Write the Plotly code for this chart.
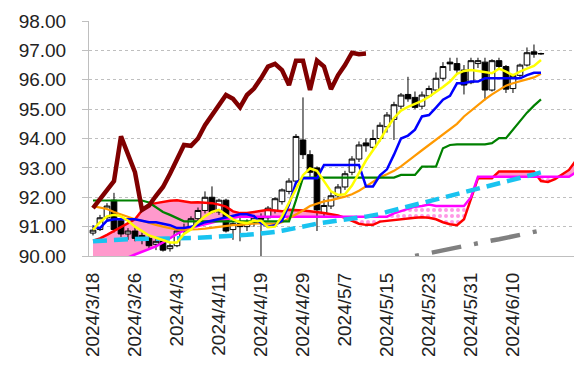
import plotly.graph_objects as go

# ---------------- data ----------------
tick_idx = [0, 6, 12, 18, 24, 30, 36, 42, 48, 54, 60]
tick_labels = ["2024/3/18", "2024/3/26", "2024/4/3", "2024/4/11", "2024/4/19", "2024/4/29",
               "2024/5/7", "2024/5/15", "2024/5/23", "2024/5/31", "2024/6/10"]

opens = [90.78, 90.90, 91.30, 91.90, 91.20, 90.75, 90.85, 90.60, 90.60, 90.40,
         90.55, 90.25, 90.35, 90.85, 90.95, 91.27, 91.55, 92.00, 91.50, 91.90,
         90.90, 91.10, 91.00, 91.15, 91.30, 91.30, 91.55, 91.85, 92.20, 92.55,
         93.95, 93.45, 93.00, 91.45, 91.70, 92.05, 92.35, 92.85, 93.30, 93.85,
         93.70, 94.00, 94.40, 94.65, 95.10, 95.50, 95.40, 95.10, 95.45, 95.65,
         96.05, 96.60, 96.55, 96.33, 95.90, 96.55, 96.60, 95.65, 96.65, 96.45,
         95.70, 96.15, 96.50, 96.95, 96.88]
highs = [91.05, 91.40, 91.80, 92.15, 91.30, 90.95, 91.00, 90.80, 90.70, 90.60,
         90.60, 90.45, 90.95, 91.10, 91.35, 91.65, 92.20, 92.37, 91.95, 91.95,
         91.15, 91.30, 91.25, 91.40, 91.45, 91.70, 92.00, 92.30, 92.65, 94.15,
         95.40, 93.60, 93.05, 91.95, 92.20, 92.45, 92.90, 93.40, 93.90, 94.00,
         94.30, 94.55, 94.90, 95.25, 95.55, 96.10, 95.60, 95.60, 95.80, 96.25,
         96.60, 96.75, 96.75, 96.50, 96.75, 96.75, 96.75, 96.70, 96.75, 96.50,
         96.20, 96.55, 97.10, 97.20, 96.92]
lows = [90.70, 90.85, 91.20, 90.80, 90.65, 90.55, 90.50, 90.40, 90.25, 90.20,
        90.15, 90.15, 90.30, 90.75, 90.90, 91.20, 91.45, 91.45, 91.40, 90.80,
        90.55, 90.50, 90.85, 91.00, 89.90, 91.20, 91.45, 91.75, 92.10, 92.45,
        93.30, 92.70, 90.85, 91.35, 91.60, 91.95, 92.25, 92.75, 93.20, 93.55,
        93.65, 93.90, 94.20, 93.95, 95.00, 95.25, 95.00, 95.00, 95.40, 95.60,
        95.95, 96.30, 96.20, 95.50, 95.85, 96.40, 95.30, 95.60, 96.35, 95.55,
        95.55, 96.05, 96.45, 96.75, 96.85]
closes = [90.88, 91.30, 91.70, 90.90, 90.75, 90.85, 90.60, 90.70, 90.35, 90.50,
          90.20, 90.35, 90.85, 90.95, 91.27, 91.55, 92.00, 91.50, 91.90, 90.85,
          91.10, 91.00, 91.15, 91.30, 91.25, 91.63, 91.95, 92.25, 92.55, 94.07,
          93.45, 92.85, 91.57, 91.72, 92.05, 92.35, 92.80, 93.30, 93.78, 93.75,
          94.00, 94.45, 94.80, 95.15, 95.48, 95.35, 95.06, 95.48, 95.70, 96.05,
          96.45, 96.54, 96.33, 95.82, 96.65, 96.65, 95.65, 96.65, 96.45, 95.68,
          96.15, 96.50, 96.92, 96.87, 96.89]

ma_yellow = [90.90, 91.15, 91.35, 91.40, 91.35, 91.20, 91.00, 90.85, 90.70, 90.62,
             90.55, 90.46, 90.46, 90.75, 90.90, 91.15, 91.35, 91.50, 91.57, 91.42,
             91.25, 91.15, 91.12, 91.20, 91.20, 90.98, 91.00, 91.35, 91.80, 92.30,
             92.75, 92.98, 92.90, 92.55, 92.20, 92.08, 92.10, 92.40, 92.85, 93.25,
             93.60, 93.95, 94.35, 94.70, 94.95, 95.08, 95.18, 95.28, 95.42, 95.57,
             95.75, 95.94, 96.20, 96.30, 96.33, 96.30, 96.25, 96.22, 96.38, 96.28,
             96.15, 96.28, 96.38, 96.47, 96.67]
tenkan_blue = [91.00, 90.95, 91.20, 91.25, 91.25, 91.25, 91.25, 91.20, 91.15, 91.15,
               91.10, 91.05, 90.95, 90.95, 91.00, 91.05, 91.15, 91.20, 91.25, 91.30,
               91.35, 91.42, 91.42, 91.36, 91.12, 91.00, 91.05, 91.20, 91.75, 92.50,
               92.65, 92.65, 92.65, 93.10, 93.10, 93.10, 93.10, 93.10, 93.10, 92.37,
               92.37, 92.75, 92.95, 93.45, 94.00, 94.10, 94.30, 94.75, 94.80, 95.05,
               95.32, 95.45, 95.88, 95.88, 95.94, 95.94, 96.05, 96.05, 96.05, 96.05,
               96.05, 96.05, 96.16, 96.24, 96.24]
kijun_green = [91.89, 91.89, 91.89, 91.89, 91.89, 91.89, 91.89, 91.89, 91.82, 91.65,
               91.50, 91.40, 91.30, 91.18, 91.18, 91.18, 91.18, 91.18, 91.18, 91.18,
               91.18, 91.18, 91.18, 91.18, 91.18, 91.18, 91.18, 91.18, 91.18, 91.90,
               92.67, 92.67, 92.67, 92.67, 92.67, 92.67, 92.67, 92.67, 92.67, 92.67,
               92.67, 92.67, 92.67, 92.67, 92.76, 92.76, 92.76, 93.04, 93.04, 93.04,
               93.67, 93.78, 93.80, 93.80, 93.80, 93.80, 93.80, 93.84, 94.01, 94.01,
               94.30, 94.60, 94.88, 95.12, 95.33]
ma_orange = [91.70, 91.66, 91.60, 91.50, 91.42, 91.33, 91.25, 91.20, 91.12, 91.06,
             91.00, 90.95, 90.90, 90.90, 90.90, 90.91, 90.93, 90.96, 91.00, 91.02,
             91.05, 91.06, 91.08, 91.10, 91.12, 91.10, 91.10, 91.15, 91.28, 91.42,
             91.55, 91.70, 91.77, 91.86, 91.90, 91.95, 92.02, 92.10, 92.22, 92.37,
             92.52, 92.68, 92.78, 92.90, 93.05, 93.25, 93.42, 93.60, 93.78, 93.95,
             94.15, 94.33, 94.50, 94.75, 94.95, 95.13, 95.33, 95.50, 95.65, 95.80,
             95.88, 95.94, 96.00, 96.08, 96.20]
ma_cyan = [90.50, 90.52, 90.54, 90.55, 90.56, 90.57, 90.58, 90.58, 90.59, 90.59,
           90.60, 90.60, 90.60, 90.61, 90.61, 90.62, 90.63, 90.64, 90.65, 90.66,
           90.68, 90.70, 90.72, 90.74, 90.76, 90.79, 90.82, 90.86, 90.90, 90.95,
           91.00, 91.05, 91.10, 91.14, 91.18, 91.22, 91.25, 91.28, 91.31, 91.34,
           91.38, 91.43, 91.50, 91.56, 91.62, 91.68, 91.75, 91.81, 91.87, 91.92,
           91.97, 92.02, 92.08, 92.14, 92.20, 92.27, 92.33, 92.39, 92.45, 92.51,
           92.57, 92.64, 92.71, 92.78, 92.85]
ma_gray = [89.71, 89.76, 89.81, 89.86, 89.91, 89.95, 90.00, 90.05, 90.10, 90.14,
           90.19, 90.24, 90.29, 90.33, 90.38, 90.43, 90.48, 90.53, 90.57, 90.62,
           90.67, 90.72, 90.77, 90.82, 90.87]
chikou = [91.63, 91.95, 92.25, 92.55, 94.07, 93.45, 92.85, 91.57, 91.72, 92.05,
          92.35, 92.80, 93.30, 93.78, 93.75, 94.00, 94.45, 94.80, 95.15, 95.48,
          95.35, 95.06, 95.48, 95.70, 96.05, 96.45, 96.54, 96.33, 95.82, 96.65,
          96.65, 95.65, 96.65, 96.45, 95.68, 96.15, 96.50, 96.92, 96.87, 96.89]
span_a_red = [90.52, 90.60, 90.72, 90.85, 91.00, 91.12, 91.25, 91.55, 91.75, 91.80,
              91.85, 91.88, 91.90, 91.85, 91.82, 91.83, 91.82, 91.80, 91.75, 91.68,
              91.52, 91.46, 91.46, 91.50, 91.52, 91.57, 91.55, 91.52, 91.57, 91.57,
              91.55, 91.52, 91.50, 91.46, 91.42, 91.38, 91.30, 91.20, 91.10, 91.06,
              91.06, 91.17, 91.20, 91.22, 91.25, 91.28, 91.30, 91.32, 91.30, 91.25,
              91.15, 91.08, 91.05, 91.25, 91.97, 92.65, 92.65, 92.65, 92.88, 92.88,
              92.88, 92.88, 92.88, 92.88, 92.55, 92.52, 92.62, 92.76, 92.93, 93.25,
              93.55]
span_b_magenta = [89.50, 89.55, 89.62, 89.72, 89.85, 89.95, 90.05, 90.15, 90.24, 90.33,
                  90.46, 90.62, 90.75, 90.87, 90.96, 91.02, 91.07, 91.14, 91.20, 91.25,
                  91.30, 91.34, 91.34, 91.34, 91.34, 91.34, 91.34, 91.34, 91.34, 91.34,
                  91.34, 91.34, 91.34, 91.34, 91.34, 91.34, 91.34, 91.34, 91.34, 91.34,
                  91.34, 91.34, 91.34, 91.45, 91.52, 91.60, 91.68, 91.70, 91.75, 91.70,
                  91.70, 91.70, 91.70, 91.70, 92.00, 92.70, 92.70, 92.70, 92.70, 92.70,
                  92.70, 92.70, 92.70, 92.70, 92.70, 92.70, 92.70, 92.70, 92.70, 92.85,
                  92.95]

x_data = list(range(len(closes)))
x_span = list(range(len(span_a_red)))
x_chikou = list(range(len(chikou)))
x_gray = list(range(len(closes) - len(ma_gray), len(closes)))

# ---------------- cloud regions ----------------
def split_regions(xs, a, b):
    up, down = [], []
    sx, sa, sb = [xs[0]], [a[0]], [b[0]]
    sign = a[0] >= b[0]
    for k in range(1, len(xs)):
        s = a[k] >= b[k]
        if s != sign:
            d0 = a[k - 1] - b[k - 1]
            d1 = a[k] - b[k]
            t = d0 / (d0 - d1)
            xc = xs[k - 1] + t * (xs[k] - xs[k - 1])
            yc = a[k - 1] + t * (a[k] - a[k - 1])
            sx.append(xc); sa.append(yc); sb.append(yc)
            (up if sign else down).append((sx, sa, sb))
            sx, sa, sb = [xc], [yc], [yc]
            sign = s
        sx.append(xs[k]); sa.append(a[k]); sb.append(b[k])
    (up if sign else down).append((sx, sa, sb))
    return up, down


def polys(regs):
    px, py = [], []
    for sx, sa, sb in regs:
        px += sx + sx[::-1] + [None]
        py += sa + sb[::-1] + [None]
    return px, py


up_regs, down_regs = split_regions(x_span, span_a_red, span_b_magenta)

fig = go.Figure()

ux, uy = polys(up_regs)
fig.add_trace(go.Scatter(x=ux, y=uy, fill="toself", mode="lines", line=dict(width=0),
                         fillcolor="#FF99CC", hoverinfo="skip", showlegend=False))
dx, dy = polys(down_regs)
fig.add_trace(go.Scatter(x=dx, y=dy, fill="toself", mode="lines", line=dict(width=0),
                         fillcolor="#FFFFFF",
                         fillpattern=dict(shape=".", fgcolor="#FF33CC", bgcolor="#FFFFFF",
                                          size=6, solidity=0.35),
                         hoverinfo="skip", showlegend=False))

# candles on overlay axes (above the cloud)
fig.add_trace(go.Candlestick(
    x=x_data, open=opens, high=highs, low=lows, close=closes,
    xaxis="x2", yaxis="y2",
    increasing=dict(line=dict(color="#000000", width=1), fillcolor="#FFFFFF"),
    decreasing=dict(line=dict(color="#000000", width=1), fillcolor="#000000"),
    whiskerwidth=0, hoverinfo="skip", showlegend=False))


def add_line(x, y, color, width, dash="solid"):
    fig.add_trace(go.Scatter(x=x, y=y, mode="lines", xaxis="x2", yaxis="y2",
                             line=dict(color=color, width=width, dash=dash),
                             hoverinfo="skip", showlegend=False))


add_line(x_span, span_a_red, "#FF0000", 2.5)
add_line(x_span, span_b_magenta, "#FF00FF", 2.5)
add_line(x_gray, ma_gray, "#808080", 4.5, "30px,13px,4px,13px")
add_line(x_data, ma_cyan, "#19C3F0", 4.5, "14px,7px")
add_line(x_data, ma_orange, "#FF9900", 2.2)
add_line(x_data, kijun_green, "#008000", 2.2)
add_line(x_data, tenkan_blue, "#0000FF", 2.5)
add_line(x_data, ma_yellow, "#FFFF00", 2.5)
add_line(x_chikou, chikou, "#800000", 4.5)

xr = [-0.57, 69.86]
yr = [90, 98]
font_family = "Liberation Sans, Arial, sans-serif"

# the page body adds an 8px offset; sizes/margins compensate so the plot area
# lands at x 89..582, y 21..256.5 in the window
fig.update_layout(
    width=574, height=362,
    margin=dict(l=81, r=0, t=13, b=113.5, autoexpand=False),
    paper_bgcolor="#FFFFFF", plot_bgcolor="#FFFFFF",
    showlegend=False, hovermode=False,
    boxgap=0.1, boxgroupgap=0.1,
    xaxis=dict(range=xr, tickmode="array", tickvals=tick_idx, ticktext=tick_labels,
               tickangle=-90, showgrid=False, zeroline=False, showline=True,
               linecolor="#BFBFBF", linewidth=1, ticks="", automargin=False,
               ticklabelstandoff=8,
               tickfont=dict(family=font_family, size=19, color="#222222"),
               rangeslider=dict(visible=False), fixedrange=True),
    yaxis=dict(range=yr, dtick=1, tick0=90, tickformat=".2f", showgrid=True,
               gridcolor="#BFBFBF", griddash="dot", gridwidth=1, zeroline=False,
               showline=True, linecolor="#BFBFBF", linewidth=1, automargin=False,
               ticks="outside", ticklen=6, tickcolor="#BFBFBF", ticklabelstandoff=12,
               tickfont=dict(family=font_family, size=19, color="#222222"),
               fixedrange=True),
    xaxis2=dict(range=xr, overlaying="x", visible=False, showgrid=False,
                automargin=False, rangeslider=dict(visible=False), fixedrange=True),
    yaxis2=dict(range=yr, overlaying="y", visible=False, showgrid=False,
                automargin=False, fixedrange=True),
)

fig.write_html("out.html")
